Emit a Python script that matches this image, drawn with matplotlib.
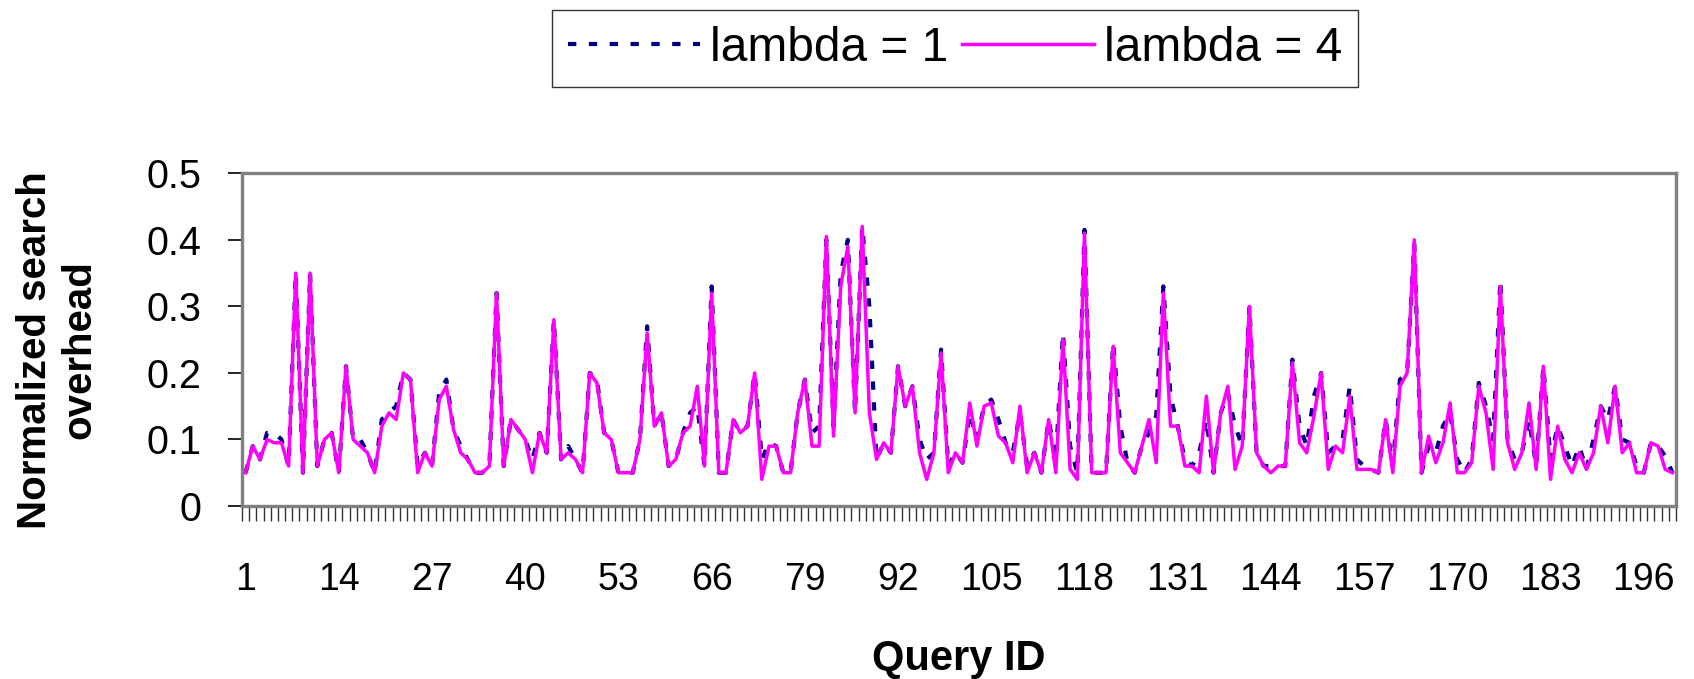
import numpy as np
import matplotlib
matplotlib.use("Agg")
import matplotlib.pyplot as plt
from matplotlib import font_manager as fm

# ---------------- data ----------------
query_ids = list(range(1, 201))

lambda4 = [
    0.05, 0.09, 0.07, 0.10, 0.095, 0.095, 0.06, 0.35, 0.05, 0.35,
    0.06, 0.10, 0.11, 0.05, 0.21, 0.10, 0.09, 0.08, 0.05, 0.12,
    0.14, 0.13, 0.20, 0.19, 0.05, 0.08, 0.06, 0.16, 0.18, 0.115,
    0.08, 0.07, 0.05, 0.05, 0.06, 0.32, 0.06, 0.13, 0.115, 0.10,
    0.05, 0.11, 0.08, 0.28, 0.07, 0.08, 0.07, 0.05, 0.20, 0.185,
    0.11, 0.10, 0.05, 0.05, 0.05, 0.10, 0.26, 0.12, 0.14, 0.06,
    0.07, 0.11, 0.12, 0.18, 0.06, 0.32, 0.05, 0.05, 0.13, 0.11,
    0.12, 0.20, 0.04, 0.09, 0.09, 0.05, 0.05, 0.14, 0.19, 0.09,
    0.09, 0.405, 0.105, 0.33, 0.39, 0.14, 0.42, 0.14, 0.07, 0.095,
    0.08, 0.21, 0.15, 0.18, 0.08, 0.04, 0.08, 0.23, 0.05, 0.08,
    0.065, 0.155, 0.09, 0.15, 0.155, 0.105, 0.095, 0.065, 0.15, 0.05,
    0.08, 0.05, 0.13, 0.05, 0.25, 0.055, 0.04, 0.41, 0.05, 0.05,
    0.05, 0.24, 0.08, 0.065, 0.05, 0.09, 0.13, 0.065, 0.32, 0.12,
    0.12, 0.06, 0.06, 0.05, 0.165, 0.05, 0.14, 0.18, 0.055, 0.09,
    0.30, 0.08, 0.06, 0.05, 0.06, 0.06, 0.215, 0.095, 0.08, 0.135,
    0.20, 0.055, 0.09, 0.08, 0.165, 0.055, 0.055, 0.055, 0.05, 0.13,
    0.05, 0.18, 0.20, 0.40, 0.05, 0.105, 0.065, 0.095, 0.155, 0.05,
    0.05, 0.065, 0.18, 0.14, 0.055, 0.33, 0.095, 0.055, 0.08, 0.155,
    0.055, 0.21, 0.04, 0.12, 0.07, 0.05, 0.08, 0.055, 0.08, 0.15,
    0.095, 0.18, 0.08, 0.095, 0.05, 0.05, 0.095, 0.09, 0.055, 0.05,
]

lambda1 = [
    0.05, 0.09, 0.07, 0.11, 0.11, 0.10, 0.06, 0.35, 0.05, 0.35,
    0.06, 0.10, 0.11, 0.05, 0.21, 0.10, 0.10, 0.08, 0.05, 0.13,
    0.14, 0.15, 0.20, 0.19, 0.06, 0.08, 0.06, 0.17, 0.19, 0.115,
    0.09, 0.07, 0.05, 0.05, 0.06, 0.32, 0.06, 0.13, 0.115, 0.10,
    0.07, 0.11, 0.08, 0.28, 0.07, 0.09, 0.07, 0.05, 0.20, 0.19,
    0.11, 0.10, 0.05, 0.05, 0.05, 0.10, 0.27, 0.12, 0.14, 0.06,
    0.07, 0.11, 0.14, 0.15, 0.06, 0.33, 0.05, 0.05, 0.13, 0.11,
    0.12, 0.20, 0.07, 0.095, 0.09, 0.05, 0.05, 0.14, 0.19, 0.11,
    0.12, 0.40, 0.12, 0.35, 0.40, 0.14, 0.42, 0.30, 0.07, 0.095,
    0.08, 0.21, 0.15, 0.18, 0.10, 0.07, 0.08, 0.235, 0.06, 0.08,
    0.065, 0.14, 0.10, 0.15, 0.16, 0.13, 0.095, 0.08, 0.14, 0.06,
    0.08, 0.05, 0.13, 0.07, 0.26, 0.09, 0.05, 0.415, 0.05, 0.05,
    0.05, 0.245, 0.12, 0.065, 0.05, 0.09, 0.11, 0.135, 0.33, 0.165,
    0.12, 0.07, 0.06, 0.08, 0.13, 0.05, 0.14, 0.17, 0.12, 0.09,
    0.30, 0.08, 0.06, 0.06, 0.06, 0.06, 0.22, 0.12, 0.09, 0.165,
    0.20, 0.08, 0.09, 0.10, 0.18, 0.07, 0.06, 0.055, 0.05, 0.13,
    0.06, 0.19, 0.20, 0.395, 0.05, 0.09, 0.08, 0.12, 0.14, 0.07,
    0.05, 0.07, 0.185, 0.15, 0.10, 0.34, 0.10, 0.07, 0.08, 0.13,
    0.06, 0.21, 0.07, 0.12, 0.09, 0.06, 0.09, 0.055, 0.10, 0.15,
    0.13, 0.18, 0.10, 0.095, 0.06, 0.05, 0.095, 0.09, 0.075, 0.05,
]

x_tick_labels = [str(v) for v in range(1, 201, 13)]
y_ticks = [0, 0.1, 0.2, 0.3, 0.4, 0.5]
y_tick_labels = ["0", "0.1", "0.2", "0.3", "0.4", "0.5"]

# ---------------- fonts ----------------
names = {f.name for f in fm.fontManager.ttflist}
base = "Liberation Sans" if "Liberation Sans" in names else "DejaVu Sans"
if "Liberation Sans Narrow" in names:
    narrow = "Liberation Sans Narrow"
    xt_size, leg_size, xl_size = 31, 41, 34
else:
    narrow = base
    xt_size, leg_size, xl_size = 27, 34.5, 30

plt.rcParams["font.family"] = [base, "DejaVu Sans"]

W, H = 1694, 679
fig = plt.figure(figsize=(W / 100, H / 100), dpi=100)
ax = fig.add_axes([242 / W, 1 - 506 / H, (1676 - 242) / W, (506 - 173.3) / H])

x = np.array(query_ids)
ax.plot(x, lambda1, color="#000080", lw=3.0, dashes=(2.0, 3.0),
        label="lambda = 1", zorder=2)
ax.plot(x, lambda4, color="#FF00FF", lw=2.5, label="lambda = 4",
        zorder=3, solid_joinstyle="round")

ax.set_xlim(0.5, len(query_ids) + 0.5)
ax.set_ylim(0, 0.5)

# y axis
ax.set_yticks(y_ticks)
ax.set_yticklabels(y_tick_labels, fontsize=28.5, family=base)
ax.tick_params(axis="y", length=10, width=1.2, color="black", pad=19)

# x axis: ticks at category boundaries, labels every 13 categories
ax.set_xticks(np.arange(0.5, len(query_ids) + 1.0, 1.0))
ax.set_xticklabels([])
ax.set_xticks(np.arange(1, len(query_ids) + 1, 13), minor=True)
ax.set_xticklabels(x_tick_labels, minor=True, fontsize=xt_size, family=narrow)
ax.tick_params(axis="x", which="major", length=10.5, width=1.0, color="#333333")
ax.tick_params(axis="x", which="minor", length=0, pad=40)

for s in ax.spines.values():
    s.set_color("#808080")
    s.set_linewidth(2.4)

# axis titles
fig.text(57 / W, 1 - 350 / H, "Normalized search\noverhead", rotation=90,
         ha="center", va="center", multialignment="center",
         fontsize=29, fontweight="bold", family=base, linespacing=1.22)
fig.text(959 / W, 1 - 659 / H, "Query ID", ha="center", va="center",
         fontsize=xl_size, fontweight="bold", family=narrow)

# legend
leg = fig.legend(loc="center", bbox_to_anchor=(955 / W, 1 - 48.6 / H), ncol=2,
                 frameon=True, fancybox=False, edgecolor="black",
                 prop={"family": narrow, "size": leg_size},
                 handlelength=2.75, handletextpad=0.2, columnspacing=0.3,
                 borderpad=0.34, borderaxespad=0.0)
leg.get_frame().set_linewidth(1.0)

fig.savefig("out.png", dpi=100)
